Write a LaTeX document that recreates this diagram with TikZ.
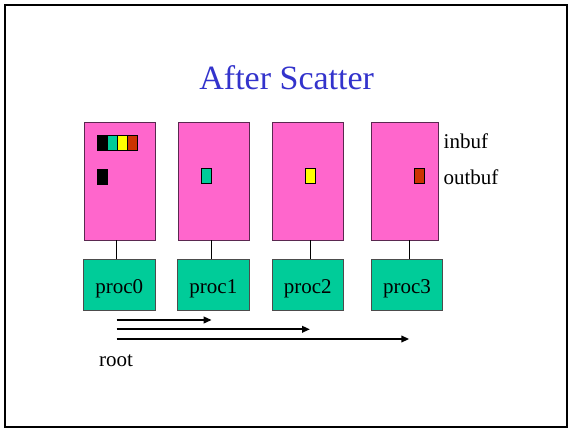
\documentclass[tikz,border=0pt]{standalone}
\usepackage{fontspec}
\setmainfont{Liberation Serif}
\usetikzlibrary{arrows.meta}
\definecolor{pinkbox}{RGB}{255,102,204}
\definecolor{greenbox}{RGB}{0,204,153}
\definecolor{titleblue}{RGB}{51,51,204}
\definecolor{redcell}{RGB}{204,51,0}
\definecolor{yellowcell}{RGB}{255,255,0}
\definecolor{pinkedge}{RGB}{90,40,80}
\begin{document}
\begin{tikzpicture}[x=1pt,y=-1pt,
  membox/.style={draw=pinkedge, line width=0.9pt, fill=pinkbox, inner sep=0pt, outer sep=0pt, minimum height=118pt},
  procbox/.style={draw=black!70, line width=0.9pt, fill=greenbox, inner sep=0pt, outer sep=0pt, minimum height=51.7pt},
  cellbox/.style={draw=black, line width=0.8pt, inner sep=0pt, outer sep=0pt, minimum width=9.8pt, minimum height=15pt},
  lbl/.style={font=\fontsize{21}{25}\selectfont, inner sep=0pt, anchor=base},
  wire/.style={draw=black, line width=0.9pt},
  sendarrow/.style={draw=black, line width=2pt, -{Triangle[length=8pt,width=6.5pt]}}
]
\useasboundingbox (0,0) rectangle (568,429);
\fill[white] (0,0) rectangle (568,429);
\draw[line width=2pt] (4.7,5) rectangle (566.5,427);

% title
\node[font=\fontsize{34}{40}\selectfont, text=titleblue, inner sep=0pt, anchor=base] (title) at (286.7,89.3) {After Scatter};

% memory boxes
\node[membox, minimum width=71pt] (p0) at (119.5,181) {};
\node[membox, minimum width=71pt] (p1) at (213.5,181) {};
\node[membox, minimum width=71pt] (p2) at (307.8,181) {};
\node[membox, minimum width=66.3pt] (p3) at (404.8,181) {};

% inbuf cells in root
\node[cellbox, fill=black] (i0) at (102.7,143.2) {};
\node[cellbox, fill=greenbox] (i1) at (112.5,143.2) {};
\node[cellbox, fill=yellowcell] (i2) at (122.2,143.2) {};
\node[cellbox, fill=redcell] (i3) at (132,143.2) {};

% outbuf cells
\node[cellbox, fill=black, minimum width=10pt] (o0) at (102.7,176.5) {};
\node[cellbox, fill=greenbox, minimum width=10pt] (o1) at (206.5,176.3) {};
\node[cellbox, fill=yellowcell, minimum width=10pt] (o2) at (310.3,176.3) {};
\node[cellbox, fill=redcell, minimum width=10pt] (o3) at (418.9,176.3) {};

% labels
\node[lbl, anchor=base west] (inbuf) at (443.5,148.3) {inbuf};
\node[lbl, anchor=base west] (outbuf) at (443.3,184) {outbuf};

% process boxes
\node[procbox, minimum width=71.7pt] (g0) at (119.2,284.9) {};
\node[procbox, minimum width=71.3pt] (g1) at (213.4,284.9) {};
\node[procbox, minimum width=71pt] (g2) at (307.8,284.9) {};
\node[procbox, minimum width=70.6pt] (g3) at (407,284.9) {};
\node[lbl] (t0) at (119.2,293.3) {proc0};
\node[lbl] (t1) at (213.4,293.3) {proc1};
\node[lbl] (t2) at (307.8,293.3) {proc2};
\node[lbl] (t3) at (407,293.3) {proc3};

% connector positions
\coordinate (k0) at (116.7,250);
\coordinate (k1) at (211.7,250);
\coordinate (k2) at (310,250);
\coordinate (k3) at (409.3,250);

\draw[wire] (p0.south -| k0) -- (g0.north -| k0);
\draw[wire] (p1.south -| k1) -- (g1.north -| k1);
\draw[wire] (p2.south -| k2) -- (g2.north -| k2);
\draw[wire] (p3.south -| k3) -- (g3.north -| k3);

% scatter arrows
\coordinate (s1) at (116.7,320);
\coordinate (e1) at (211.7,320);
\coordinate (s2) at (116.7,329.3);
\coordinate (e2) at (310,329.3);
\coordinate (s3) at (116.7,339);
\coordinate (e3) at (409.3,339);
\draw[sendarrow] (s1) -- (e1);
\draw[sendarrow] (s2) -- (e2);
\draw[sendarrow] (s3) -- (e3);

\node[lbl, anchor=base west] (root) at (99,366.7) {root};
\end{tikzpicture}
\end{document}
